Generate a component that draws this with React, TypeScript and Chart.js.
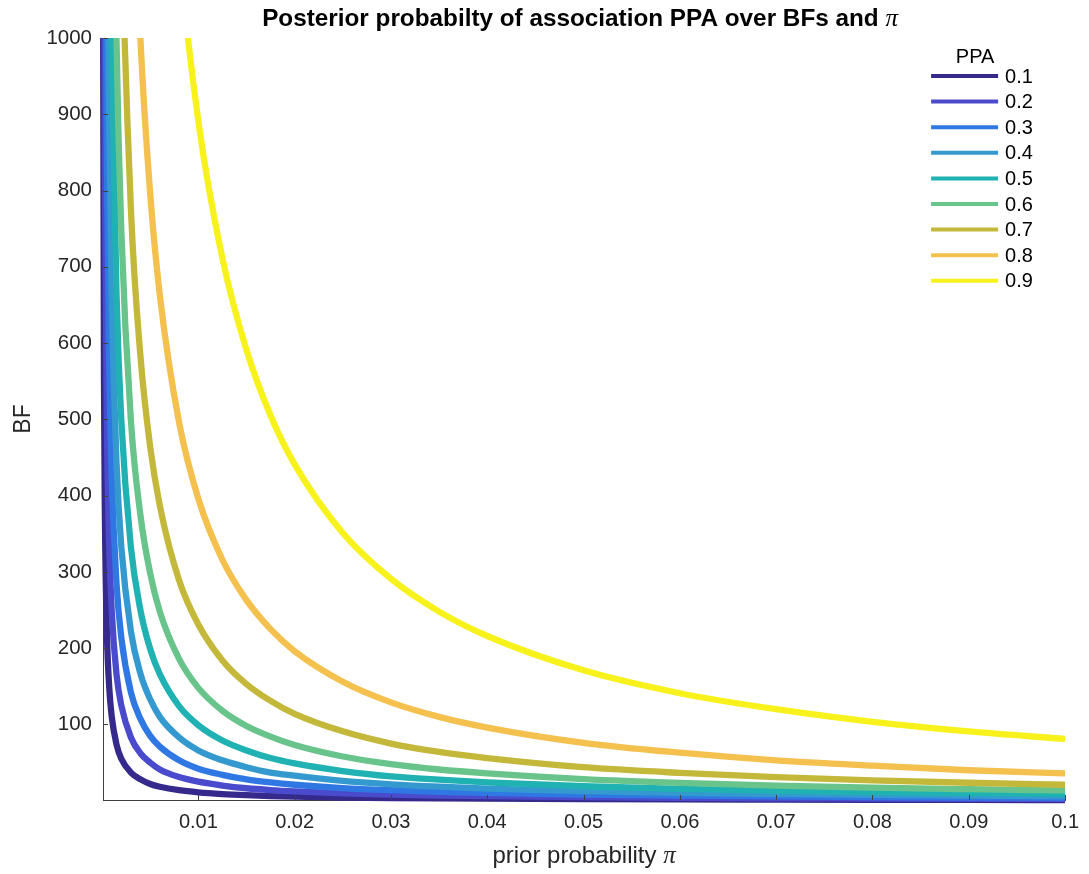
import React, { useEffect, useRef } from "react";
import { Chart, registerables } from "chart.js";

Chart.register(...registerables);

// ---- data ----
const piValues = [0.0001, 0.0002, 0.0003, 0.0005, 0.00075, 0.001, 0.0015, 0.002, 0.003, 0.004, 0.005, 0.006, 0.008, 0.01, 0.0125, 0.015, 0.0175, 0.02, 0.025, 0.03, 0.035, 0.04, 0.05, 0.06, 0.07, 0.08, 0.09, 0.1];

const ppaLabels = ["0.1", "0.2", "0.3", "0.4", "0.5", "0.6", "0.7", "0.8", "0.9"];

const bfPPA01 = [1111, 555, 370, 222, 148, 111, 74, 55, 37, 28, 22, 18.4, 13.8, 11, 8.8, 7.3, 6.2, 5.4, 4.3, 3.6, 3.1, 2.7, 2.1, 1.7, 1.5, 1.3, 1.1, 1.0];
const bfPPA02 = [2500, 1250, 833, 500, 333, 250, 166, 125, 83, 62, 50, 41, 31, 25, 20, 16.4, 14, 12.3, 9.8, 8.1, 6.9, 6, 4.8, 3.9, 3.3, 2.9, 2.5, 2.3];
const bfPPA03 = [4285, 2142, 1428, 857, 571, 428, 285, 214, 142, 107, 85, 71, 53, 42, 34, 28, 24, 21, 16.7, 13.9, 11.8, 10.3, 8.1, 6.7, 5.7, 4.9, 4.3, 3.9];
const bfPPA04 = [6666, 3333, 2221, 1333, 888, 666, 444, 333, 222, 166, 133, 110, 83, 66, 53, 44, 37, 33, 26, 21.6, 18.4, 16, 12.7, 10.4, 8.9, 7.7, 6.7, 6];
const bfPPA05 = [9999, 4999, 3332, 1999, 1332, 999, 666, 499, 332, 249, 199, 166, 124, 99, 79, 66, 56, 49, 39, 32, 27.6, 24, 19, 15.7, 13.3, 11.5, 10.1, 9];
const bfPPA06 = [15000, 7500, 4998, 2998, 1998, 1498, 998, 748, 498, 373, 298, 248, 186, 148, 118, 98, 84, 73, 58, 48, 41, 36, 28.5, 23.5, 19.9, 17.2, 15.2, 13.5];
const bfPPA07 = [23330, 11664, 7775, 4664, 3109, 2331, 1553, 1164, 775, 581, 464, 387, 289, 231, 184, 153, 131, 114, 91, 75, 64, 56, 44, 36.6, 31, 26.8, 23.6, 21];
const bfPPA08 = [40000, 20000, 13329, 7996, 5329, 3996, 2663, 1996, 1329, 996, 796, 663, 496, 396, 316, 263, 225, 196, 156, 129, 110, 96, 76, 63, 53, 46, 40, 36];
const bfPPA09 = [90000, 45000, 29990, 17990, 11990, 8991, 5991, 4491, 2991, 2241, 1791, 1491, 1116, 891, 711, 591, 505, 441, 351, 291, 248, 216, 171, 141, 120, 103.5, 91, 81];

const bfSeries = [bfPPA01, bfPPA02, bfPPA03, bfPPA04, bfPPA05, bfPPA06, bfPPA07, bfPPA08, bfPPA09];

const seriesColors = ["#352a8c", "#4a4bcc", "#2f78e4", "#3399cf", "#20b2b2", "#68c48a", "#c4b83a", "#f4c04e", "#f8f21c"];

const xTickValues = [0.01, 0.02, 0.03, 0.04, 0.05, 0.06, 0.07, 0.08, 0.09, 0.1];
const xTickLabels = ["0.01", "0.02", "0.03", "0.04", "0.05", "0.06", "0.07", "0.08", "0.09", "0.1"];
const yTickValues = [100, 200, 300, 400, 500, 600, 700, 800, 900, 1000];
const yTickLabels = ["100", "200", "300", "400", "500", "600", "700", "800", "900", "1000"];

const titleMain = "Posterior probabilty of association PPA over BFs and ";
const xTitleMain = "prior probability ";
const piSymbol = "π";
const yTitle = "BF";
const legendTitle = "PPA";

const SANS = "'Liberation Sans', Arial, Helvetica, sans-serif";
const SERIF = "'Liberation Serif', 'DejaVu Serif', serif";
const AXIS_COLOR = "#404040";
const TEXT_COLOR = "#262626";

function drawMixed(ctx: CanvasRenderingContext2D, main: string, mainFont: string, sym: string, symFont: string, cx: number, cy: number, color: string) {
  ctx.font = mainFont;
  const w1 = ctx.measureText(main).width;
  ctx.font = symFont;
  const w2 = ctx.measureText(sym).width;
  const start = cx - (w1 + w2) / 2;
  ctx.fillStyle = color;
  ctx.textBaseline = "middle";
  ctx.textAlign = "left";
  ctx.font = mainFont;
  ctx.fillText(main, start, cy);
  ctx.font = symFont;
  ctx.fillText(sym, start + w1, cy);
}

const overlayPlugin = {
  id: "overlay",
  afterDraw(chart: any) {
    const ctx: CanvasRenderingContext2D = chart.ctx;
    const area = chart.chartArea;
    const xs = chart.scales.x;
    const ys = chart.scales.y;
    ctx.save();
    // inward tick marks
    ctx.strokeStyle = AXIS_COLOR;
    ctx.lineWidth = 1;
    xTickValues.forEach((v) => {
      const px = Math.round(xs.getPixelForValue(v)) + 0.5;
      ctx.beginPath();
      ctx.moveTo(px, area.bottom);
      ctx.lineTo(px, area.bottom - 5);
      ctx.stroke();
    });
    yTickValues.forEach((v) => {
      const py = Math.round(ys.getPixelForValue(v)) + 0.5;
      ctx.beginPath();
      ctx.moveTo(area.left, py);
      ctx.lineTo(area.left + 5, py);
      ctx.stroke();
    });
    const cx = (area.left + area.right) / 2;
    // title
    drawMixed(ctx, titleMain, `bold 24.3px ${SANS}`, piSymbol, `italic 25px ${SERIF}`, cx - 4, 19, "#000");
    // x axis title
    drawMixed(ctx, xTitleMain, `24px ${SANS}`, piSymbol, `italic 25px ${SERIF}`, cx, 856, TEXT_COLOR);
    // legend
    const lx0 = area.right - 134;
    const lx1 = area.right - 67;
    const ly0 = area.top + 38;
    const step = 25.6;
    ctx.fillStyle = "#000";
    ctx.font = `20px ${SANS}`;
    ctx.textAlign = "center";
    ctx.textBaseline = "middle";
    ctx.fillText(legendTitle, area.right - 90, area.top + 19);
    chart.data.datasets.forEach((ds: any, i: number) => {
      const y = ly0 + i * step;
      ctx.strokeStyle = ds.borderColor;
      ctx.lineWidth = 4;
      ctx.beginPath();
      ctx.moveTo(lx0, y);
      ctx.lineTo(lx1, y);
      ctx.stroke();
      ctx.fillStyle = "#000";
      ctx.textAlign = "left";
      ctx.fillText(ds.label, lx1 + 7, y + 1);
    });
    ctx.restore();
  },
};

export default function App() {
  const canvasRef = useRef<HTMLCanvasElement | null>(null);

  useEffect(() => {
    if (!canvasRef.current) return;
    const datasets = bfSeries.map((series, i) => ({
      label: ppaLabels[i],
      data: piValues.map((x, j) => ({ x, y: series[j] })),
      borderColor: seriesColors[i],
      backgroundColor: seriesColors[i],
      borderWidth: 6.3,
      pointRadius: 0,
      fill: false,
      cubicInterpolationMode: "monotone" as const,
      order: bfSeries.length - i,
      clip: { left: 3, top: 0, right: 4, bottom: 4 },
    }));
    const chart = new Chart(canvasRef.current, {
      type: "line",
      data: { datasets },
      options: {
        animation: false,
        responsive: false,
        layout: { padding: { top: 38, right: 19, left: 0, bottom: 0 } },
        plugins: {
          legend: { display: false },
          tooltip: { enabled: false },
          title: { display: false },
        },
        scales: {
          x: {
            type: "linear",
            min: 0.0001,
            max: 0.1,
            afterBuildTicks: (s: any) => {
              s.ticks = xTickValues.map((v) => ({ value: v }));
            },
            afterFit: (s: any) => {
              s.height = 74;
            },
            ticks: {
              autoSkip: false,
              maxRotation: 0,
              padding: 10,
              color: TEXT_COLOR,
              font: { family: SANS, size: 20 },
              callback: (_v: any, i: number) => xTickLabels[i],
            },
            grid: { display: false, drawTicks: false },
            border: { display: true, color: AXIS_COLOR, width: 1 },
          },
          y: {
            type: "linear",
            min: 1,
            max: 1000,
            afterBuildTicks: (s: any) => {
              s.ticks = yTickValues.map((v) => ({ value: v }));
            },
            afterFit: (s: any) => {
              s.width = 103;
            },
            ticks: {
              autoSkip: false,
              padding: 11,
              color: TEXT_COLOR,
              font: { family: SANS, size: 20.5 },
              callback: (_v: any, i: number) => yTickLabels[i],
            },
            title: {
              display: true,
              text: yTitle,
              color: TEXT_COLOR,
              font: { family: SANS, size: 23 },
              padding: { top: 10, bottom: 0 },
            },
            grid: { display: false, drawTicks: false },
            border: { display: true, color: AXIS_COLOR, width: 1 },
          },
        },
      },
      plugins: [overlayPlugin],
    });
    return () => chart.destroy();
  }, []);

  return (
    <div style={{ position: "absolute", left: 0, top: 0, width: 1089, height: 874, background: "#fff" }}>
      <canvas ref={canvasRef} width={1089} height={874} style={{ display: "block" }} />
    </div>
  );
}
